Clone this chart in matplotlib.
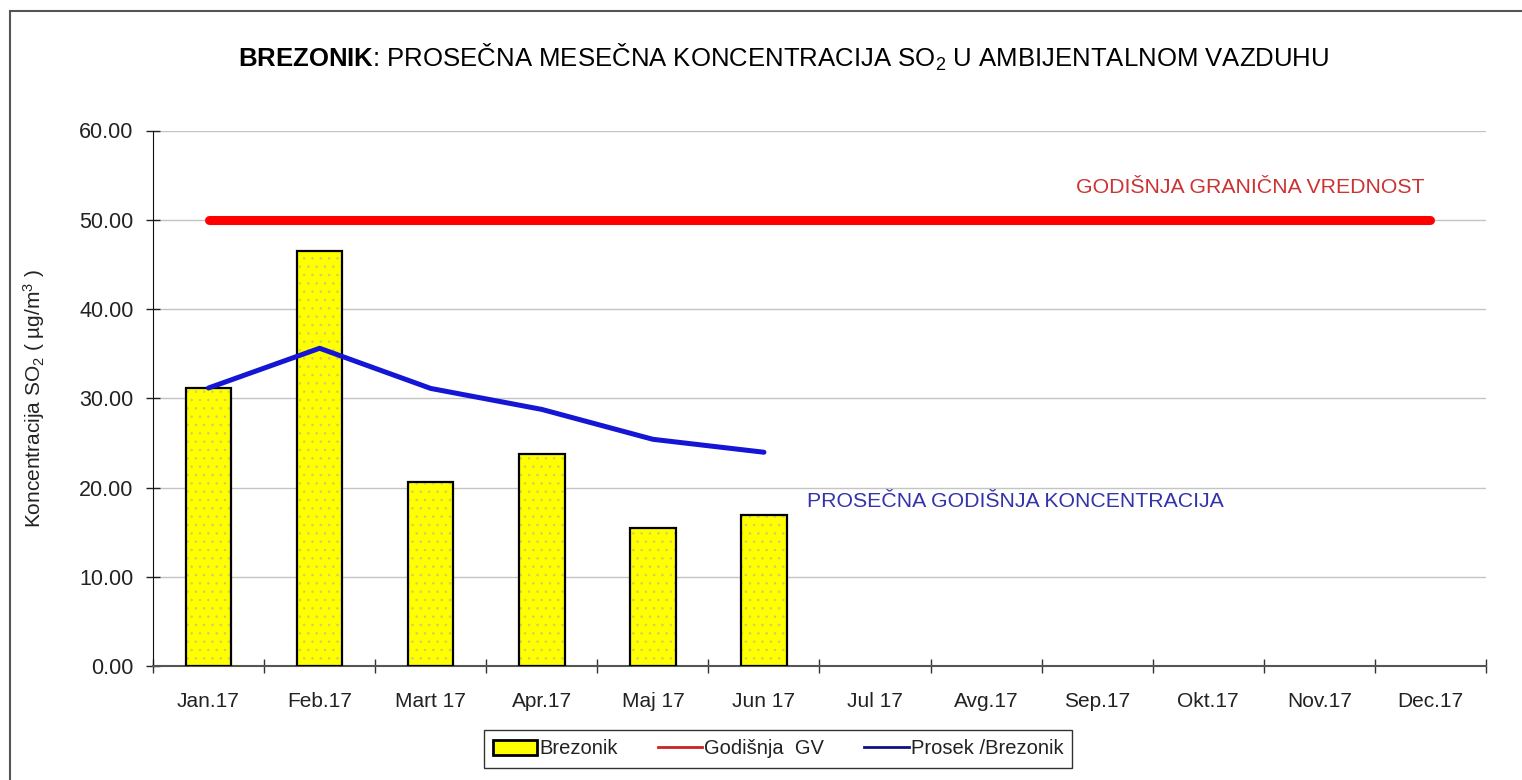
import matplotlib.pyplot as plt
from matplotlib.patches import Patch, Rectangle
from matplotlib.lines import Line2D

months = ["Jan.17", "Feb.17", "Mart 17", "Apr.17", "Maj 17", "Jun 17",
          "Jul 17", "Avg.17", "Sep.17", "Okt.17", "Nov.17", "Dec.17"]
brezonik = [31.15, 46.45, 20.6, 23.8, 15.45, 16.9]
prosek = [31.15, 35.6, 31.1, 28.75, 25.4, 23.95]
godisnja_gv = [50.0, 50.0, 50.0, 50.0, 50.0, 50.0,
               50.0, 50.0, 50.0, 50.0, 50.0, 50.0]
yticks = [0, 10, 20, 30, 40, 50, 60]

plt.rcParams["font.family"] = ["Liberation Sans", "DejaVu Sans"]
plt.rcParams["mathtext.fontset"] = "custom"
plt.rcParams["mathtext.rm"] = "Liberation Sans"
plt.rcParams["mathtext.it"] = "Liberation Sans:italic"
plt.rcParams["mathtext.bf"] = "Liberation Sans:bold"
plt.rcParams["hatch.linewidth"] = 0.6

W, H = 1522, 780
fig = plt.figure(figsize=(W / 100, H / 100), dpi=100)
ax = fig.add_axes([153 / W, 1 - 666 / H, (1486 - 153) / W, (666 - 130.5) / H])

x = list(range(len(months)))
xb = x[:len(brezonik)]

# bars: dotted yellow fill, then black outline on top
ax.bar(xb, brezonik, width=0.41, color="#ffff00", edgecolor="#d0d060",
       hatch="..", linewidth=0, zorder=3)
ax.bar(xb, brezonik, width=0.41, fill=False, edgecolor="black",
       linewidth=1.6, zorder=4)

ax.plot(x, godisnja_gv, color="#ff0000", lw=6.5, solid_capstyle="round", zorder=5)
ax.plot(x[:len(prosek)], prosek, color="#1515d5", lw=3.6,
        solid_capstyle="round", zorder=5)

ax.set_xlim(-0.5, len(months) - 0.5)
ax.set_ylim(0, 60)
ax.set_yticks(yticks)
ax.set_yticklabels([f"{v:.2f}" for v in yticks])
ax.set_xticks([i - 0.5 for i in range(len(months) + 1)])
ax.set_xticklabels([])
ax.set_xticks(x, minor=True)
ax.set_xticklabels(months, minor=True)
ax.tick_params(axis="x", which="major", direction="inout", length=10,
               width=1, color="#333333")
ax.tick_params(axis="x", which="minor", length=0, pad=19,
               labelsize=15, labelcolor="#222222")
ax.tick_params(axis="y", direction="inout", length=10, width=1,
               color="#222222", pad=9, labelsize=15.5, labelcolor="#222222")

ax.yaxis.grid(True, color="#c4c4c4", lw=1)
ax.set_axisbelow(True)
for s in ("top", "right"):
    ax.spines[s].set_visible(False)
ax.spines["left"].set_color("#111111")
ax.spines["bottom"].set_color("#555555")
ax.spines["bottom"].set_linewidth(1.5)

ax.set_ylabel(r"Koncentracija SO$_2$ ( µg/m$^3$ )", fontsize=15,
              color="#222222")
ax.yaxis.set_label_coords((47 - 153) / (1486 - 153), 0.5)

ax.text(10.95, 53.6, "GODIŠNJA GRANIČNA VREDNOST", color="#cc3333",
        fontsize=15.3, ha="right", va="center")
ax.text(5.39, 18.4, "PROSEČNA GODIŠNJA KONCENTRACIJA", color="#3333aa",
        fontsize=15.3, ha="left", va="center")

fig.text(784 / W, 1 - 57 / H,
         r"$\mathbf{BREZONIK}$: PROSEČNA MESEČNA KONCENTRACIJA SO$_2$ U AMBIJENTALNOM VAZDUHU",
         fontsize=18.5, ha="center", va="center", color="black")

handles = [
    Patch(facecolor="#ffff00", edgecolor="black", linewidth=2),
    Line2D([], [], color="#cc2222", lw=2),
    Line2D([], [], color="#101080", lw=2),
]
fig.legend(handles, ["Brezonik", "Godišnja  GV", "Prosek /Brezonik"],
           loc="center", bbox_to_anchor=(778 / W, 1 - 749 / H), ncol=3,
           frameon=True, fancybox=False, edgecolor="black", fontsize=14.5,
           handlelength=2.2, handletextpad=0.1, columnspacing=2.0,
           borderpad=0.45, labelcolor="#222222")

fig.patches.append(Rectangle((10 / W, -0.1), 1.2, 0.1 + 1 - 11 / H,
                             transform=fig.transFigure, fill=False,
                             edgecolor="#555555", lw=1.5))

fig.savefig("out.png", dpi=100)
